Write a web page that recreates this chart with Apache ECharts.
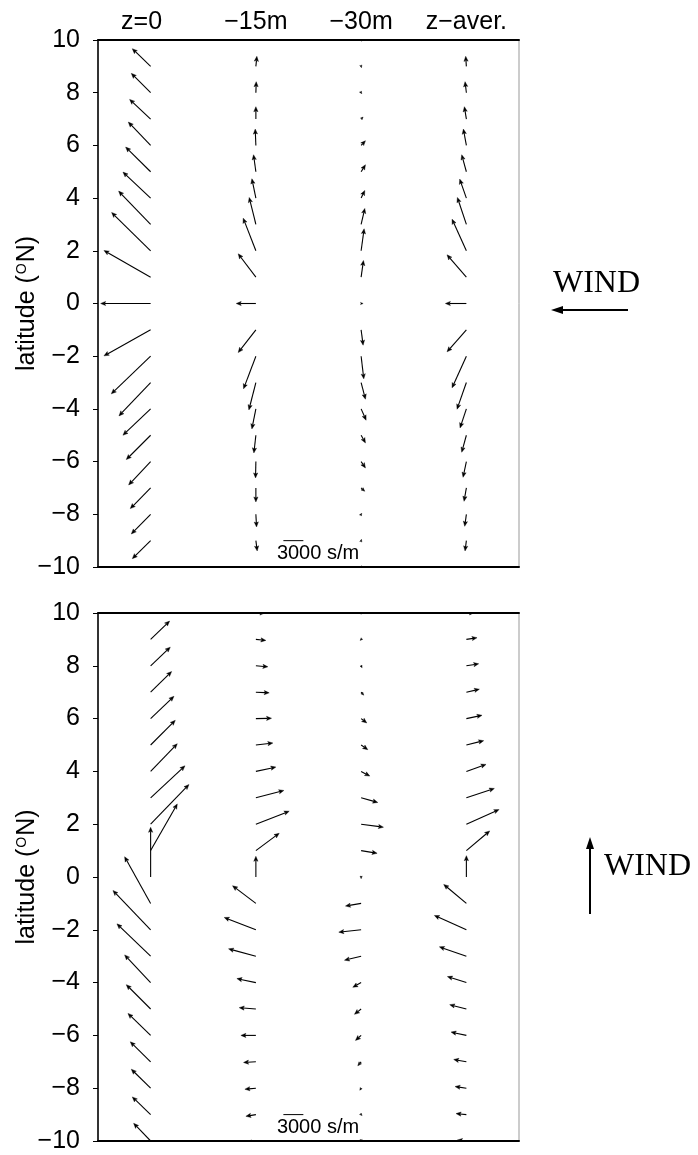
<!DOCTYPE html>
<html>
<head>
<meta charset="utf-8">
<script src="https://cdn.jsdelivr.net/npm/echarts@6/dist/echarts.min.js"></script>
<style>
  html, body { margin: 0; padding: 0; background: #fff; }
  #chart { width: 698px; height: 1155px; }
</style>
</head>
<body>
<div id="chart"></div>
<script>
// columns (depth levels) and latitudes of the arrows
const columns = ['z=0', '\u221215m', '\u221230m', 'z\u2212aver.'];
const latitudes = [10, 9, 8, 7, 6, 5, 4, 3, 2, 1, 0, -1, -2, -3, -4, -5, -6, -7, -8, -9, -10];

// upper panel: easterly wind. components in s/m (u east, v north)
const eastU_z0   = [-2550, -2750, -2900, -3150, -3350, -3750, -4150, -4800, -5850, -7000, -7500, -7000, -5900, -4750, -4150, -3650, -3300, -3050, -2900, -2750, -2550];
const eastV_z0   = [2550, 2650, 2900, 2950, 3500, 3700, 3900, 5000, 5750, 4000, 0, -3900, -5650, -5000, -3950, -3650, -3500, -3100, -2950, -2700, -2550];
const eastU_15   = [200, 150, 50, 0, -100, -350, -600, -1000, -1900, -2650, -2950, -2650, -1850, -1050, -600, -300, -50, 0, 100, 200, 200];
const eastV_15   = [1400, 1500, 1650, 1850, 2450, 2550, 2900, 4050, 4900, 3500, 0, -3400, -4900, -4100, -3000, -2650, -2450, -2100, -1900, -1550, -1400];
const eastU_30   = [50, 50, 100, 300, 650, 650, 550, 550, 450, 350, 300, 300, 400, 650, 750, 650, 650, 550, 100, 50, 50];
const eastV_30   = [-200, -200, -150, 300, 700, 1050, 1150, 2400, 3300, 2500, 0, -2300, -3400, -2500, -1700, -1150, -950, -500, 150, 200, 200];
const eastU_avg  = [-50, -100, -200, -300, -450, -700, -1000, -1350, -2150, -2900, -3150, -2900, -2150, -1400, -950, -700, -500, -350, -250, -200, -150];
const eastV_avg  = [1400, 1500, 1650, 1850, 2450, 2550, 2850, 4050, 4750, 3350, 0, -3300, -4750, -4000, -2850, -2550, -2350, -2000, -1800, -1550, -1400];

// lower panel: wind along the y direction
const northU_z0  = [2700, 2850, 2950, 3150, 3500, 3700, 4000, 5150, 5750, 4000, 0, -3900, -5650, -5050, -3900, -3650, -3400, -3050, -2900, -2750, -2550];
const northV_z0  = [2600, 2750, 2800, 3100, 3350, 3700, 4150, 4800, 5950, 7000, 7450, 7000, 5900, 4850, 4150, 3650, 3300, 3000, 2850, 2650, 2650];
const northU_15  = [1350, 1500, 1800, 2000, 2350, 2550, 3000, 4200, 5000, 3500, 0, -3500, -4750, -4100, -2850, -2500, -2250, -1850, -1650, -1500, -1350];
const northV_15  = [0, -150, -150, -100, 50, 300, 650, 1100, 1950, 2600, 3100, 2650, 1850, 1100, 600, 200, 0, -100, -150, -250, -300];
const northU_30  = [0, -150, 150, 400, 850, 1000, 1300, 2500, 3350, 2400, 0, -2350, -3350, -2500, -1250, -1000, -850, -500, -200, 150, 0];
const northV_30  = [-200, -150, -300, -450, -650, -700, -700, -700, -450, -400, -250, -400, -350, -600, -700, -800, -750, -600, -300, -150, -150];
const northU_avg = [1200, 1600, 1850, 1950, 2350, 2600, 2950, 4200, 4900, 3500, 0, -3400, -4800, -4050, -2850, -2500, -2300, -1900, -1700, -1550, -1350];
const northV_avg = [50, 250, 300, 450, 500, 650, 1050, 1400, 2200, 2950, 3200, 2850, 2150, 1400, 900, 650, 500, 350, 250, 150, 150];

// reference arrow
const keyValue = 3000;        // s/m
const keyFraction = 0.19;     // of a column width
const keyLabel = '3000 s/m';

const chart = echarts.init(document.getElementById('chart'));
const font = '"Liberation Sans", Arial, Helvetica, sans-serif';
const serif = '"Liberation Serif", "Times New Roman", serif';
const minus = v => String(v).replace('-', '\u2212');

function pxPerUnit(api) {
  return api.size([1, 0])[0] * keyFraction / keyValue;
}

function renderArrow(params, api) {
  const base = api.coord([api.value(0), api.value(1)]);
  const k = pxPerUnit(api);
  const dx = api.value(2) * k;
  const dy = -api.value(3) * k;
  const len = Math.hypot(dx, dy);
  if (len < 0.3) return null;
  const ux = dx / len, uy = dy / len;
  // small arrows keep a visible head, as in the original
  const head = Math.min(5, Math.max(2.6, len * 0.75));
  const half = head * 0.42;
  const tip = [base[0] + dx, base[1] + dy];
  const hb = [tip[0] - ux * head * 0.8, tip[1] - uy * head * 0.8];
  const hw = [tip[0] - ux * head, tip[1] - uy * head];
  const children = [];
  if (len > head * 0.8) {
    children.push({ type: 'line', shape: { x1: base[0], y1: base[1], x2: hb[0], y2: hb[1] },
      style: { stroke: '#000', lineWidth: 1.1 } });
  }
  children.push({ type: 'polygon',
    shape: { points: [tip, [hw[0] - uy * half, hw[1] + ux * half], hb, [hw[0] + uy * half, hw[1] - ux * half]] },
    style: { fill: '#000', stroke: '#000', lineWidth: 0.4 } });
  return { type: 'group', children: children };
}

function renderKey(params, api) {
  const p = api.coord([api.value(0), api.value(1)]);
  const len = api.value(2) * pxPerUnit(api);
  const x0 = p[0] + 27.5;
  return {
    type: 'group',
    children: [
      { type: 'line', shape: { x1: x0, y1: p[1], x2: x0 + len, y2: p[1] },
        style: { stroke: '#000', lineWidth: 1 } },
      { type: 'text', x: p[0] + 21, y: p[1] + 3,
        style: { text: keyLabel, font: '20px ' + font, fill: '#000', verticalAlign: 'top' } }
    ]
  };
}

function arrowData(col, us, vs) {
  return latitudes.map((lat, i) => [col, lat, us[i], vs[i]]);
}

const panels = [
  [[eastU_z0, eastV_z0], [eastU_15, eastV_15], [eastU_30, eastV_30], [eastU_avg, eastV_avg]],
  [[northU_z0, northV_z0], [northU_15, northV_15], [northU_30, northV_30], [northU_avg, northV_avg]]
];

const series = [];
panels.forEach((cols, p) => {
  cols.forEach((uv, c) => {
    series.push({
      type: 'custom',
      xAxisIndex: p * 2,
      yAxisIndex: p,
      clip: true,
      silent: true,
      renderItem: renderArrow,
      encode: { x: 0, y: 1 },
      data: arrowData(columns[c], uv[0], uv[1])
    });
  });
  series.push({
    type: 'custom',
    xAxisIndex: p * 2,
    yAxisIndex: p,
    silent: true,
    renderItem: renderKey,
    encode: { x: 0, y: 1 },
    data: [[columns[1], -9, keyValue]]
  });
});

function xAxes(gridIndex, withLabels) {
  const common = {
    type: 'category',
    gridIndex: gridIndex,
    data: columns,
    boundaryGap: true,
    axisTick: { show: false },
    splitLine: { show: false },
    axisLine: { show: true, onZero: false, lineStyle: { color: '#000', width: 2 } }
  };
  return [
    Object.assign({}, common, { position: 'bottom', axisLabel: { show: false } }),
    Object.assign({}, common, {
      position: 'top',
      axisLabel: {
        show: withLabels, interval: 0, hideOverlap: false, margin: 5,
        color: '#000', fontSize: 25, fontFamily: font,
        formatter: (v, i) => i === 0 ? '{a|' + v + '}' : v,
        rich: { a: { fontSize: 25, fontFamily: font, color: '#000', padding: [0, 18, 0, 0] } }
      }
    })
  ];
}

function yAxis(gridIndex) {
  return {
    type: 'value',
    gridIndex: gridIndex,
    min: -10,
    max: 10,
    interval: 2,
    axisLine: { show: true, onZero: false, lineStyle: { color: '#000', width: 1.5 } },
    axisTick: { show: true, inside: false, length: 5, lineStyle: { color: '#000', width: 1 } },
    axisLabel: { margin: 18, color: '#000', fontSize: 25, fontFamily: font, formatter: minus },
    splitLine: { show: false },
    name: '{t|latitude (}{s|O}{t|N)}',
    nameLocation: 'middle',
    nameRotate: 90,
    nameGap: 58,
    nameMoveOverlap: false,
    nameTextStyle: {
      rich: {
        t: { fontSize: 25, fontFamily: font, color: '#000' },
        s: { fontSize: 14, fontFamily: font, color: '#000', verticalAlign: 'top', padding: [0, 1, 0, 1] }
      }
    }
  };
}

const gridBase = { left: 98, width: 421, show: true, borderColor: '#999', borderWidth: 1,
  backgroundColor: 'transparent', containLabel: false, outerBoundsMode: 'none' };

chart.setOption({
  backgroundColor: '#fff',
  animation: false,
  grid: [
    Object.assign({}, gridBase, { top: 40, height: 527 }),
    Object.assign({}, gridBase, { top: 613, height: 528 })
  ],
  xAxis: xAxes(0, true).concat(xAxes(1, false)),
  yAxis: [yAxis(0), yAxis(1)],
  series: series,
  graphic: [
    { type: 'text', left: 553, top: 268, style: { text: 'WIND', font: '32px ' + serif, fill: '#000' } },
    { type: 'line', shape: { x1: 628, y1: 310, x2: 560, y2: 310 }, style: { stroke: '#000', lineWidth: 2 } },
    { type: 'polygon', shape: { points: [[551, 310], [563, 306], [563, 314]] }, style: { fill: '#000' } },
    { type: 'text', left: 604, top: 851, style: { text: 'WIND', font: '32px ' + serif, fill: '#000' } },
    { type: 'line', shape: { x1: 590, y1: 914, x2: 590, y2: 846 }, style: { stroke: '#000', lineWidth: 2 } },
    { type: 'polygon', shape: { points: [[590, 837], [586, 849], [594, 849]] }, style: { fill: '#000' } }
  ]
});
</script>
</body>
</html>
